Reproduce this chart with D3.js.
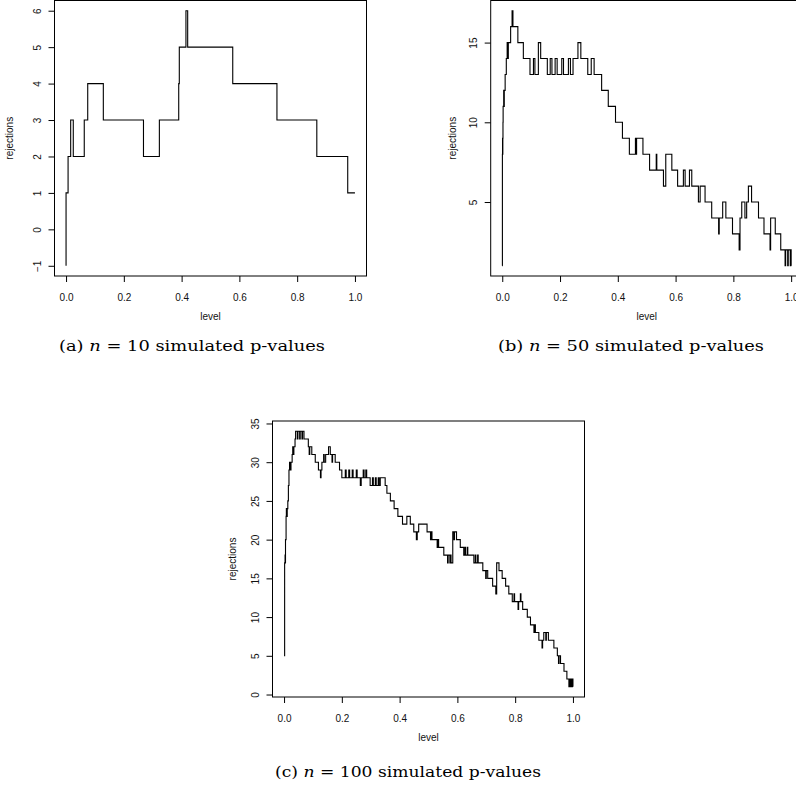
<!DOCTYPE html>
<html lang="en">
<head>
<meta charset="UTF-8">
<script src="https://cdn.jsdelivr.net/npm/d3@7"></script>
<style>
  body { margin: 0; background: #fff; }
  svg { display: block; }
  .tick-label, .axis-title { font-family: "Liberation Sans", Arial, sans-serif; font-size: 10px; fill: #111; }
  .caption { font-family: "DejaVu Serif", serif; font-size: 15.5px; fill: #000; }
</style>
</head>
<body>
<svg id="chart" width="796" height="794"></svg>
<script>
// step data: level (x) and number of rejections (y)
const levelA = [0, 0, 0.007, 0.016, 0.025, 0.063, 0.075, 0.129, 0.268, 0.323, 0.390, 0.392, 0.415, 0.421, 0.577, 0.730, 0.868, 0.975, 1.0]
const rejA   = [-1, 1, 2, 3, 2, 3, 4, 3, 2, 3, 4, 5, 6, 5, 4, 3, 2, 1, 1]

const levelB = [0, 0.0005, 0.001, 0.0015, 0.002, 0.0025, 0.003, 0.005, 0.006, 0.007, 0.010, 0.014, 0.017, 0.019, 0.021,
  0.029, 0.034, 0.037, 0.054, 0.073, 0.096, 0.108, 0.113, 0.125, 0.133, 0.156, 0.166, 0.172, 0.183, 0.190, 0.206,
  0.212, 0.229, 0.236, 0.245, 0.262, 0.272, 0.296, 0.308, 0.318, 0.344, 0.367, 0.392, 0.416, 0.440, 0.461, 0.463,
  0.465, 0.487, 0.510, 0.533, 0.535, 0.558, 0.566, 0.587, 0.607, 0.627, 0.633, 0.648, 0.656, 0.679, 0.685, 0.702,
  0.725, 0.749, 0.751, 0.763, 0.774, 0.797, 0.820, 0.823, 0.829, 0.840, 0.846, 0.852, 0.863, 0.887, 0.906, 0.927,
  0.929, 0.945, 0.964, 0.979, 0.981, 0.988, 0.990, 0.997, 0.999, 1.0]
const rejB   = [1, 8, 9, 8, 9, 10, 11, 12, 11, 12, 13, 14, 15, 14, 15,
  16, 17, 16, 15, 14, 13, 14, 13, 15, 14, 13, 14, 13, 14, 13, 14,
  13, 14, 13, 14, 15, 14, 13, 14, 13, 12, 11, 10, 9, 8, 9, 8,
  9, 8, 7, 8, 7, 6, 8, 7, 6, 7, 6, 7, 6, 5, 6, 5,
  4, 3, 4, 5, 4, 3, 2, 4, 5, 4, 5, 6, 5, 4, 3, 2,
  4, 3, 2, 1, 2, 1, 2, 1, 2, 1]

const levelC = [0, 0.002, 0.0035, 0.004, 0.005, 0.007, 0.008, 0.0095, 0.011, 0.013, 0.015, 0.017, 0.019, 0.022, 0.024,
  0.028, 0.030, 0.032, 0.034, 0.038, 0.040, 0.046, 0.048, 0.054, 0.056, 0.062, 0.064, 0.069, 0.084, 0.087, 0.089,
  0.096, 0.108, 0.119, 0.126, 0.128, 0.131, 0.137, 0.139, 0.144, 0.154, 0.160, 0.166, 0.168, 0.177, 0.192, 0.200,
  0.212, 0.215, 0.224, 0.227, 0.236, 0.239, 0.250, 0.253, 0.264, 0.267, 0.274, 0.277, 0.283, 0.286, 0.298, 0.306,
  0.309, 0.316, 0.319, 0.326, 0.329, 0.333, 0.350, 0.356, 0.368, 0.381, 0.394, 0.410, 0.425, 0.437, 0.449, 0.458,
  0.461, 0.466, 0.495, 0.507, 0.509, 0.512, 0.530, 0.532, 0.535, 0.553, 0.566, 0.568, 0.574, 0.576, 0.578, 0.584,
  0.588, 0.590, 0.597, 0.610, 0.622, 0.626, 0.628, 0.634, 0.636, 0.657, 0.662, 0.664, 0.670, 0.672, 0.688, 0.698,
  0.700, 0.705, 0.722, 0.733, 0.736, 0.744, 0.755, 0.767, 0.778, 0.790, 0.796, 0.798, 0.810, 0.812, 0.818, 0.820,
  0.826, 0.842, 0.853, 0.865, 0.868, 0.870, 0.882, 0.893, 0.895, 0.899, 0.906, 0.908, 0.915, 0.934, 0.946, 0.950,
  0.952, 0.957, 0.969, 0.979, 0.986, 0.988, 0.991, 0.993, 0.996, 0.998, 1.0]
const rejC   = [5, 17, 18, 17, 20, 23, 24, 23, 24, 25, 27, 29, 30, 29, 30,
  31, 32, 31, 32, 33, 34, 33, 34, 33, 34, 33, 34, 33, 32, 31, 32,
  31, 30, 29, 28, 29, 30, 31, 30, 31, 32, 31, 30, 31, 30, 29, 28,
  29, 28, 29, 28, 29, 28, 29, 28, 27, 28, 29, 28, 29, 28, 27, 28,
  27, 28, 27, 28, 27, 28, 27, 26, 25, 24, 23, 22, 23, 22, 21, 20,
  21, 22, 21, 20, 21, 20, 19, 20, 19, 18, 17, 18, 17, 18, 17, 21,
  20, 21, 20, 19, 18, 19, 18, 19, 18, 17, 18, 17, 18, 17, 16, 15,
  16, 15, 14, 13, 17, 16, 15, 14, 13, 12, 13, 12, 11, 12, 13, 12,
  11, 10, 9, 8, 9, 8, 7, 6, 7, 8, 7, 8, 7, 6, 5, 4,
  5, 4, 3, 2, 1, 2, 1, 2, 1, 2, 1]

const xTicks  = [0, 0.2, 0.4, 0.6, 0.8, 1.0]
const yTicksA = [-1, 0, 1, 2, 3, 4, 5, 6]
const yTicksB = [5, 10, 15]
const yTicksC = [0, 5, 10, 15, 20, 25, 30, 35]

const panelLetters = ['a', 'b', 'c']
const sampleSizes  = [10, 50, 100]

const xLabel = 'level'
const yLabel = 'rejections'

let svg = d3.select('#chart')

let drawPanel = (levels, rej, yTicks, box, ylabX) => {
    // R style axis ranges: data extent plus 4% each side
    let [x0, x1] = d3.extent(levels)
    let [y0, y1] = d3.extent(rej)
    let xPad = (x1 - x0) * 0.04
    let yPad = (y1 - y0) * 0.04
    let x = d3.scaleLinear().domain([x0 - xPad, x1 + xPad]).range([box.left, box.right])
    let y = d3.scaleLinear().domain([y0 - yPad, y1 + yPad]).range([box.bottom, box.top])

    let g = svg.append('g')

    let line = d3.line()
        .x(d => x(d[0]))
        .y(d => y(d[1]))
        .curve(d3.curveStepAfter)

    g.append('path')
        .datum(d3.zip(levels, rej))
        .attr('d', line)
        .attr('fill', 'none')
        .attr('stroke', '#000')
        .attr('stroke-width', 1.1)

    g.append('rect')
        .attr('x', box.left)
        .attr('y', box.top)
        .attr('width', box.right - box.left)
        .attr('height', box.bottom - box.top)
        .attr('fill', 'none')
        .attr('stroke', '#000')
        .attr('stroke-width', 1)

    // bottom axis
    let xAxis = g.append('g')
        .attr('transform', 'translate(0,' + box.bottom + ')')
        .call(d3.axisBottom(x).tickValues(xTicks).tickSize(6).tickFormat(d3.format('.1f')))
    xAxis.select('.domain').remove()
    xAxis.selectAll('line').attr('stroke', '#000')
    xAxis.selectAll('text')
        .attr('class', 'tick-label')
        .attr('y', 21)
        .attr('dy', '0.35em')
    xAxis.attr('font-size', null).attr('font-family', null)

    // left axis, labels parallel to the axis
    let yAxis = g.append('g')
        .attr('transform', 'translate(' + box.left + ',0)')
        .call(d3.axisLeft(y).tickValues(yTicks).tickSize(6).tickFormat(d3.format('d')))
    yAxis.select('.domain').remove()
    yAxis.selectAll('line').attr('stroke', '#000')
    yAxis.selectAll('text')
        .attr('class', 'tick-label')
        .attr('transform', 'rotate(-90)')
        .attr('text-anchor', 'middle')
        .attr('x', 0)
        .attr('y', -17)
        .attr('dy', '0.35em')
    yAxis.attr('font-size', null).attr('font-family', null)

    g.append('text')
        .attr('class', 'axis-title')
        .attr('x', (x(0) + x(1)) / 2)
        .attr('y', box.bottom + 40)
        .attr('dy', '0.35em')
        .attr('text-anchor', 'middle')
        .text(xLabel)

    g.append('text')
        .attr('class', 'axis-title')
        .attr('transform', 'translate(' + ylabX + ',' + (box.top + box.bottom) / 2 + ') rotate(-90)')
        .attr('dy', '0.35em')
        .attr('text-anchor', 'middle')
        .text(yLabel)
}

let drawCaption = (i, cx, baseline) => {
    let t = svg.append('text')
        .attr('class', 'caption')
        .attr('x', cx)
        .attr('y', baseline)
        .attr('text-anchor', 'middle')
        .attr('textLength', 266)
        .attr('lengthAdjust', 'spacingAndGlyphs')
    t.append('tspan').text('(' + panelLetters[i] + ') ')
    t.append('tspan').attr('font-style', 'italic').text('n')
    t.append('tspan').text(' = ' + sampleSizes[i] + ' simulated p-values')
}

drawPanel(levelA, rejA, yTicksA, {left: 54.5, right: 366.5, top: 0.5, bottom: 276}, 9)
drawPanel(levelB, rejB, yTicksB, {left: 490.7, right: 802.7, top: 0.5, bottom: 276}, 452)
drawPanel(levelC, rejC, yTicksC, {left: 272.5, right: 584.5, top: 421, bottom: 697}, 232)

drawCaption(0, 192, 351)
drawCaption(1, 631, 351)
drawCaption(2, 408, 777)
</script>
</body>
</html>
